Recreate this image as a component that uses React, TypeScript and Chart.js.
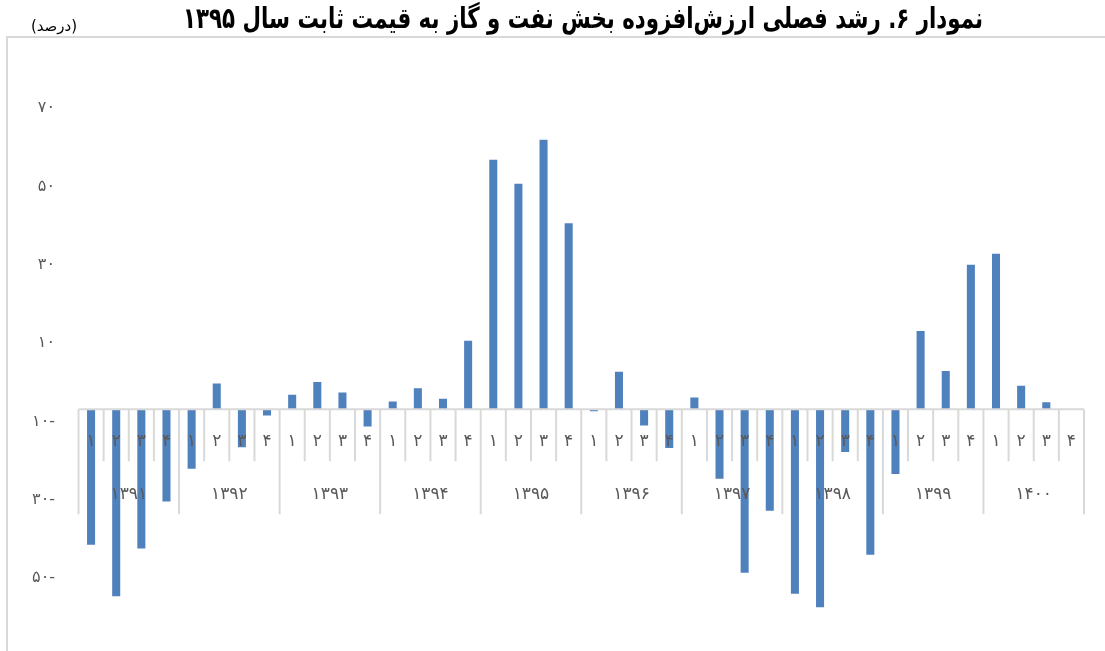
import React, { useEffect, useRef } from "react";
import { Chart, registerables } from "chart.js";

Chart.register(...registerables);

// ---- data ----
const years = ["۱۳۹۱", "۱۳۹۲", "۱۳۹۳", "۱۳۹۴", "۱۳۹۵", "۱۳۹۶", "۱۳۹۷", "۱۳۹۸", "۱۳۹۹", "۱۴۰۰"];
const quarters = ["۱", "۲", "۳", "۴"];
// quarterly growth (%) of oil & gas value added, 1391Q1 .. 1400Q4
const growth1391 = [-34.6, -47.7, -35.5, -23.5];
const growth1392 = [-15.2, 6.6, -9.7, -1.6];
const growth1393 = [3.7, 7.0, 4.3, -4.4];
const growth1394 = [2.0, 5.4, 2.7, 17.5];
const growth1395 = [63.7, 57.6, 68.8, 47.5];
const growth1396 = [-0.5, 9.6, -4.1, -9.9];
const growth1397 = [3.0, -17.7, -41.7, -25.9];
const growth1398 = [-47.1, -50.5, -10.9, -37.1];
const growth1399 = [-16.5, 20.0, 9.8, 36.9];
const growth1400 = [39.7, 6.0, 1.8, 0.1];
const yTickValues = [-50, -30, -10, 10, 30, 50, 70];
const titleText = "نمودار ۶. رشد فصلی ارزش‌افزوده بخش نفت و گاز به قیمت ثابت سال ۱۳۹۵";
const unitText = "(درصد)";

const growth = [
  ...growth1391, ...growth1392, ...growth1393, ...growth1394, ...growth1395,
  ...growth1396, ...growth1397, ...growth1398, ...growth1399, ...growth1400,
];
const labels = years.flatMap(() => quarters.map((q) => q));

const faDigits = "۰۱۲۳۴۵۶۷۸۹";
const toFa = (n: number) =>
  String(Math.abs(n)).replace(/\d/g, (d) => faDigits[+d]) + (n < 0 ? "-" : "");

const FONT = '"DejaVu Sans", sans-serif';
const GRAY_LINE = "#d9d9d9";
const LABEL_COLOR = "#595959";

const decorPlugin = {
  id: "decor",
  beforeDraw(chart: any) {
    const { ctx } = chart;
    ctx.save();
    // frame
    ctx.strokeStyle = GRAY_LINE;
    ctx.lineWidth = 2;
    ctx.beginPath();
    ctx.moveTo(7, 651);
    ctx.lineTo(7, 37);
    ctx.lineTo(1105, 37);
    ctx.stroke();
    // title (horizontally condensed to the reference width)
    ctx.fillStyle = "#000";
    ctx.direction = "rtl";
    ctx.textAlign = "center";
    ctx.textBaseline = "middle";
    ctx.font = `bold 29px "DejaVu Sans", sans-serif`;
    const w = ctx.measureText(titleText).width;
    const sx = Math.min(1, 800 / w);
    ctx.save();
    ctx.translate(583, 20);
    ctx.scale(sx, 1);
    ctx.fillText(titleText, 0, 0);
    ctx.restore();
    ctx.font = `15px ${FONT}`;
    ctx.fillText(unitText, 54, 27);
    ctx.restore();
  },
  afterDatasetsDraw(chart: any) {
    const { ctx, chartArea, scales } = chart;
    const y = scales.y;
    const zeroY = y.getPixelForValue(0);
    const n = labels.length;
    const cw = (chartArea.right - chartArea.left) / n;
    ctx.save();
    ctx.strokeStyle = GRAY_LINE;
    ctx.lineWidth = 2;
    ctx.beginPath();
    ctx.moveTo(chartArea.left, zeroY);
    ctx.lineTo(chartArea.right, zeroY);
    for (let i = 0; i <= n; i++) {
      const xp = chartArea.left + i * cw;
      const len = i % 4 === 0 ? 105 : 52;
      ctx.moveTo(xp, zeroY);
      ctx.lineTo(xp, zeroY + len);
    }
    ctx.stroke();
    ctx.fillStyle = LABEL_COLOR;
    ctx.textAlign = "center";
    ctx.textBaseline = "middle";
    ctx.font = `17px ${FONT}`;
    for (let i = 0; i < n; i++) {
      const xc = chartArea.left + (i + 0.5) * cw;
      ctx.fillText(labels[i], xc, zeroY + 32);
    }
    for (let g = 0; g < years.length; g++) {
      const xc = chartArea.left + (g * 4 + 2) * cw;
      ctx.fillText(years[g], xc, zeroY + 85);
    }
    ctx.restore();
  },
};

export default function App() {
  const ref = useRef<HTMLCanvasElement>(null);
  useEffect(() => {
    if (!ref.current) return;
    const chart = new Chart(ref.current, {
      type: "bar",
      data: {
        labels,
        datasets: [
          {
            data: growth,
            backgroundColor: "#4F81BD",
            borderWidth: 0,
            barPercentage: 0.32,
            categoryPercentage: 1,
          },
        ],
      },
      options: {
        responsive: false,
        animation: false,
        layout: { padding: { top: 96, bottom: 38, left: 0, right: 21 } },
        plugins: {
          legend: { display: false },
          title: { display: false },
          tooltip: { enabled: false },
        },
        scales: {
          x: { display: false },
          y: {
            min: -52,
            max: 80,
            afterBuildTicks: (s: any) => {
              s.ticks = yTickValues.map((v) => ({ value: v }));
            },
            afterFit: (s: any) => {
              s.width = 78.5;
            },
            grid: { display: false, drawTicks: false },
            border: { display: false },
            ticks: {
              callback: (v: any) => toFa(Number(v)),
              color: LABEL_COLOR,
              font: { family: "DejaVu Sans", size: 16 },
              labelOffset: -27,
              padding: 23.5,
            },
          },
        },
      },
      plugins: [decorPlugin],
    });
    return () => chart.destroy();
  }, []);
  return (
    <div style={{ position: "fixed", left: 0, top: 0, width: 1105, height: 651, background: "#fff" }}>
      <canvas ref={ref} width={1105} height={651} style={{ display: "block" }} />
    </div>
  );
}
